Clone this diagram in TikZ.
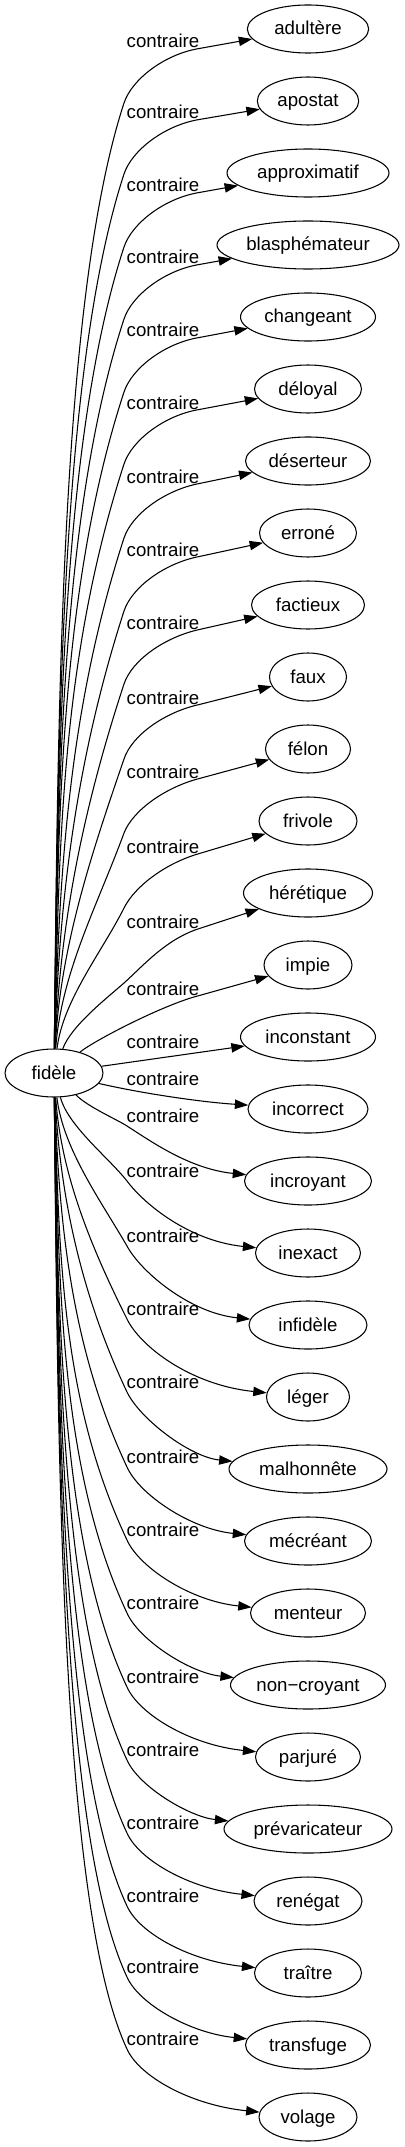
\documentclass[tikz,border=0pt]{standalone}
\usepackage{fontspec}
\setmainfont{Liberation Sans}
\usepackage{tikz}
\usetikzlibrary{shapes.geometric, arrows.meta}

\begin{document}
\begin{tikzpicture}[
    x=0.75pt, y=-0.75pt,
    word/.style={draw, ellipse, line width=0.8pt, minimum height=36pt, inner sep=0pt, text height=9.5pt, text depth=0.5pt, font=\fontsize{14}{16}\selectfont},
    rel/.style={anchor=base, inner sep=0pt, font=\fontsize{14}{16}\selectfont},
    arr/.style={-{Triangle[length=10pt, width=7pt]}, line width=0.8pt},
]
\useasboundingbox (0,0) rectangle (404,2147);

\node[word, minimum width=73.5pt] (fidele) at (54,1073) {fidèle};

\node[word, minimum width=91pt] (adultere) at (308,29) {adultère};
\node[word, minimum width=76pt] (apostat) at (308,101) {apostat};
\node[word, minimum width=121.5pt] (approximatif) at (308,173) {approximatif};
\node[word, minimum width=136.5pt] (blasphemateur) at (308,245) {blasphémateur};
\node[word, minimum width=101.25pt] (changeant) at (308,317) {changeant};
\node[word, minimum width=80.25pt] (deloyal) at (308,389) {déloyal};
\node[word, minimum width=93.75pt] (deserteur) at (308,461) {déserteur};
\node[word, minimum width=72.75pt] (errone) at (308,533) {erroné};
\node[word, minimum width=84.75pt] (factieux) at (308,605) {factieux};
\node[word, minimum width=57.75pt] (faux) at (308,677) {faux};
\node[word, minimum width=63.75pt] (felon) at (308,749) {félon};
\node[word, minimum width=73.5pt] (frivole) at (308,821) {frivole};
\node[word, minimum width=96.75pt] (heretique) at (308,893) {hérétique};
\node[word, minimum width=66pt] (impie) at (308,965) {impie};
\node[word, minimum width=101.25pt] (inconstant) at (308,1037) {inconstant};
\node[word, minimum width=90pt] (incorrect) at (308,1109) {incorrect};
\node[word, minimum width=95.25pt] (incroyant) at (308,1181) {incroyant};
\node[word, minimum width=78.75pt] (inexact) at (308,1253) {inexact};
\node[word, minimum width=88.5pt] (infidele) at (308,1325) {infidèle};
\node[word, minimum width=62.25pt] (leger) at (308,1397) {léger};
\node[word, minimum width=118.5pt] (malhonnete) at (308,1469) {malhonnête};
\node[word, minimum width=95.25pt] (mecreant) at (308,1541) {mécréant};
\node[word, minimum width=86.25pt] (menteur) at (308,1613) {menteur};
\node[word, minimum width=116.25pt] (noncroyant) at (308,1685) {non−croyant};
\node[word, minimum width=78.75pt] (parjure) at (308,1757) {parjuré};
\node[word, minimum width=126pt] (prevaricateur) at (308,1829) {prévaricateur};
\node[word, minimum width=81pt] (renegat) at (308,1901) {renégat};
\node[word, minimum width=80.25pt] (traitre) at (308,1973) {traître};
\node[word, minimum width=93.75pt] (transfuge) at (308,2045) {transfuge};
\node[word, minimum width=73.5pt] (volage) at (308,2117) {volage};

% edge labels
\node[rel] (rel1) at (163,48) {contraire};
\node[rel] (rel2) at (163,119) {contraire};
\node[rel] (rel3) at (163,192) {contraire};
\node[rel] (rel4) at (163,264) {contraire};
\node[rel] (rel5) at (163,337) {contraire};
\node[rel] (rel6) at (163,409) {contraire};
\node[rel] (rel7) at (163,483) {contraire};
\node[rel] (rel8) at (163,556) {contraire};
\node[rel] (rel9) at (163,629) {contraire};
\node[rel] (rel10) at (163,704) {contraire};
\node[rel] (rel11) at (163,778) {contraire};
\node[rel] (rel12) at (163,853) {contraire};
\node[rel] (rel13) at (163,928) {contraire};
\node[rel] (rel14) at (163,995) {contraire};
\node[rel] (rel15) at (163,1048) {contraire};
\node[rel] (rel16) at (163,1085) {contraire};
\node[rel] (rel17) at (163,1122) {contraire};
\node[rel] (rel18) at (163,1177) {contraire};
\node[rel] (rel19) at (163,1242) {contraire};
\node[rel] (rel20) at (163,1315) {contraire};
\node[rel] (rel21) at (163,1388) {contraire};
\node[rel] (rel22) at (163,1463) {contraire};
\node[rel] (rel23) at (163,1536) {contraire};
\node[rel] (rel24) at (163,1609) {contraire};
\node[rel] (rel25) at (163,1683) {contraire};
\node[rel] (rel26) at (163,1756) {contraire};
\node[rel] (rel27) at (163,1829) {contraire};
\node[rel] (rel28) at (163,1902) {contraire};
\node[rel] (rel29) at (163,1973) {contraire};
\node[rel] (rel30) at (163,2045) {contraire};

% upper fan
\draw[arr] (fidele) .. controls (58,718) and (60,299) .. (124,103) .. controls (132,79) and (165,54) .. (rel1.south east) -- (adultere);
\draw[arr] (fidele) .. controls (58,743) and (60,370) .. (124,174) .. controls (132,150) and (165,125) .. (rel2.south east) -- (apostat);
\draw[arr] (fidele) .. controls (58,768) and (60,443) .. (124,247) .. controls (132,223) and (165,198) .. (rel3.south east) -- (approximatif);
\draw[arr] (fidele) .. controls (58,794) and (60,515) .. (124,319) .. controls (132,295) and (165,270) .. (rel4.south east) -- (blasphemateur);
\draw[arr] (fidele) .. controls (58,819) and (60,588) .. (124,392) .. controls (132,368) and (165,343) .. (rel5.south east) -- (changeant);
\draw[arr] (fidele) .. controls (59,844) and (61,659) .. (124,464) .. controls (132,440) and (165,415) .. (rel6.south east) -- (deloyal);
\draw[arr] (fidele) .. controls (59,870) and (69,708) .. (124,538) .. controls (132,514) and (165,490) .. (rel7.south east) -- (deserteur);
\draw[arr] (fidele) .. controls (59,896) and (77,757) .. (124,611) .. controls (132,587) and (165,563) .. (rel8.south east) -- (errone);
\draw[arr] (fidele) .. controls (60,921) and (84,806) .. (124,684) .. controls (132,660) and (165,637) .. (rel9.south east) -- (factieux);
\draw[arr] (fidele) .. controls (60,948) and (91,855) .. (124,759) .. controls (132,735) and (165,712) .. (rel10.south east) -- (faux);
\draw[arr] (fidele) .. controls (61,973) and (98,904) .. (124,833) .. controls (133,810) and (166,787) .. (rel11.south east) -- (felon);
\draw[arr] (fidele) .. controls (63,1000) and (102,952) .. (124,908) .. controls (135,886) and (166,863) .. (rel12.south east) -- (frivole);
\draw[arr] (fidele) .. controls (71,1026) and (107,998) .. (124,983) .. controls (143,966) and (166,939) .. (rel13.south east) -- (heretique);
\draw[arr] (fidele) .. controls (95,1040) and (165,1004) .. (rel14.south east) -- (impie);

% middle
\draw[arr] (fidele) -- (inconstant);
\draw[arr] (fidele) .. controls (140,1093) and (200,1102) .. (incorrect);

% lower fan
\draw[arr] (fidele) .. controls (88,1107) and (118,1120) .. (127,1126) .. controls (152,1142) and (190,1169) .. (incroyant);
\draw[arr] (fidele) .. controls (68,1126) and (109,1158) .. (127,1181) .. controls (145,1205) and (190,1241) .. (inexact);
\draw[arr] (fidele) .. controls (63,1149) and (101,1201) .. (127,1246) .. controls (141,1272) and (190,1313) .. (infidele);
\draw[arr] (fidele) .. controls (61,1175) and (92,1249) .. (127,1319) .. controls (140,1346) and (190,1385) .. (leger);
\draw[arr] (fidele) .. controls (60,1200) and (83,1299) .. (127,1392) .. controls (140,1419) and (190,1457) .. (malhonnete);
\draw[arr] (fidele) .. controls (59,1227) and (72,1350) .. (127,1467) .. controls (139,1494) and (190,1529) .. (mecreant);
\draw[arr] (fidele) .. controls (59,1252) and (61,1400) .. (127,1540) .. controls (139,1567) and (190,1601) .. (menteur);
\draw[arr] (fidele) .. controls (59,1278) and (59,1468) .. (127,1613) .. controls (139,1640) and (190,1673) .. (noncroyant);
\draw[arr] (fidele) .. controls (58,1304) and (59,1542) .. (127,1687) .. controls (139,1714) and (190,1745) .. (parjure);
\draw[arr] (fidele) .. controls (58,1329) and (59,1615) .. (127,1760) .. controls (139,1787) and (190,1817) .. (prevaricateur);
\draw[arr] (fidele) .. controls (58,1355) and (59,1688) .. (127,1833) .. controls (139,1860) and (190,1889) .. (renegat);
\draw[arr] (fidele) .. controls (58,1380) and (59,1761) .. (127,1906) .. controls (139,1933) and (190,1961) .. (traitre);
\draw[arr] (fidele) .. controls (58,1405) and (59,1832) .. (127,1977) .. controls (139,2004) and (190,2033) .. (transfuge);
\draw[arr] (fidele) .. controls (58,1430) and (59,1904) .. (127,2049) .. controls (139,2076) and (190,2105) .. (volage);

\end{tikzpicture}
\end{document}
